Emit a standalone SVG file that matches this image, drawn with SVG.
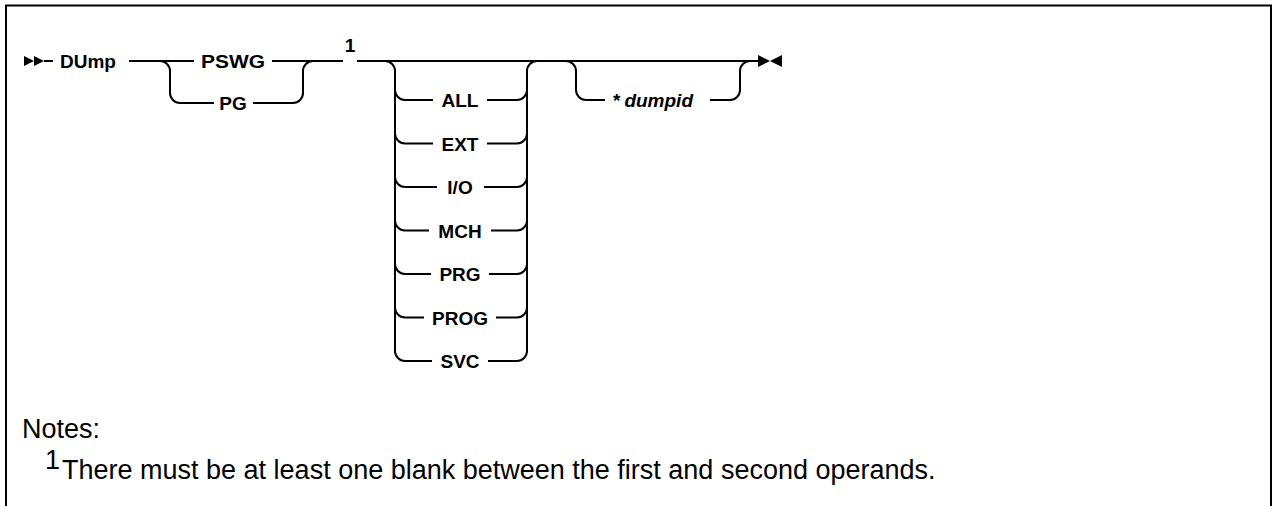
<svg xmlns="http://www.w3.org/2000/svg" width="1273" height="506" viewBox="0 0 1273 506">
<style>
.ln{fill:none;stroke:#000;stroke-width:2}
.lb{font-family:"Liberation Sans",Arial,sans-serif;font-weight:bold;font-size:19px;fill:#000}
.nt{font-family:"Liberation Sans",Arial,sans-serif;font-size:27px;fill:#000}
</style>
<rect width="1273" height="506" fill="#fff"/>
<path class="ln" d="M6,507 V5.5 H1271 V507"/>
<g id="connectors">
<path class="ln" d="M44,61 H53"/>
<path class="ln" d="M129,61 H194 M272,61 H343 M357,61 H758"/>
<path class="ln" d="M160,61 A10,10 0 0 1 170,71 V93 A10,10 0 0 0 180,103 H214 M253,103 H293 A10,10 0 0 0 303,93 V71 A10,10 0 0 1 313,61"/>
<path class="ln" d="M385,61 A10,10 0 0 1 395,71 V351 A10,10 0 0 0 405,361 H432 M488,361 H517 A10,10 0 0 0 527,351 V71 A10,10 0 0 1 537,61"/>
<path class="ln" d="M395,90 A10,10 0 0 0 405,100 H433 M487,100 H517 A10,10 0 0 0 527,90"/>
<path class="ln" d="M395,133.5 A10,10 0 0 0 405,143.5 H433 M487,143.5 H517 A10,10 0 0 0 527,133.5"/>
<path class="ln" d="M395,177 A10,10 0 0 0 405,187 H437 M484,187 H517 A10,10 0 0 0 527,177"/>
<path class="ln" d="M395,220.5 A10,10 0 0 0 405,230.5 H429 M491,230.5 H517 A10,10 0 0 0 527,220.5"/>
<path class="ln" d="M395,264 A10,10 0 0 0 405,274 H431 M489,274 H517 A10,10 0 0 0 527,264"/>
<path class="ln" d="M395,307.5 A10,10 0 0 0 405,317.5 H424 M496,317.5 H517 A10,10 0 0 0 527,307.5"/>
<path class="ln" d="M566,61 A10,10 0 0 1 576,71 V90 A10,10 0 0 0 586,100 H605 M710,100 H730 A10,10 0 0 0 740,90 V71 A10,10 0 0 1 750,61"/>
</g>
<g id="start"><polygon points="24,56 34,61 24,66"/><polygon points="34,56 44,61 34,66"/></g>
<g id="end"><polygon points="758,55 770,61 758,67"/><polygon points="782,55 770,61 782,67"/></g>
<g id="dump"><text class="lb" x="60" y="68">DUmp</text></g>
<g id="pswg"><text class="lb" x="233" y="68" text-anchor="middle" font-size="20" textLength="64" lengthAdjust="spacingAndGlyphs">PSWG</text></g>
<g id="pg"><text class="lb" x="233" y="110" text-anchor="middle">PG</text></g>
<g id="note-ref"><text class="lb" x="350" y="52" text-anchor="middle" font-size="17">1</text></g>
<g id="all"><text class="lb" x="460" y="107" text-anchor="middle">ALL</text></g>
<g id="ext"><text class="lb" x="460" y="150.5" text-anchor="middle">EXT</text></g>
<g id="io"><text class="lb" x="460" y="194" text-anchor="middle">I/O</text></g>
<g id="mch"><text class="lb" x="460" y="237.5" text-anchor="middle">MCH</text></g>
<g id="prg"><text class="lb" x="460" y="281" text-anchor="middle">PRG</text></g>
<g id="prog"><text class="lb" x="460" y="324.5" text-anchor="middle">PROG</text></g>
<g id="svc"><text class="lb" x="460" y="368" text-anchor="middle">SVC</text></g>
<g id="dumpid"><text class="lb" x="613" y="107">*<tspan font-style="italic" dx="4">dumpid</tspan></text></g>
<g id="notes">
<text class="nt" x="22" y="438">Notes:</text>
<text class="nt" x="45" y="469" font-size="16">1</text>
<text class="nt" x="62" y="479">There must be at least one blank between the first and second operands.</text>
</g>
</svg>
